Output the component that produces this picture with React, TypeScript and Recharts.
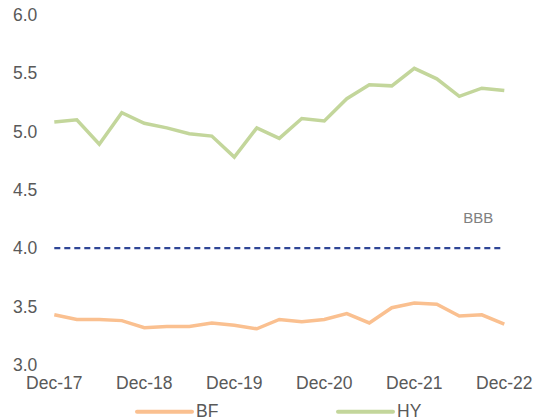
import React from 'react';
import { LineChart, Line, XAxis, YAxis, Legend } from 'recharts';

const quarters = [
  'Dec-17', 'Mar-18', 'Jun-18', 'Sep-18',
  'Dec-18', 'Mar-19', 'Jun-19', 'Sep-19',
  'Dec-19', 'Mar-20', 'Jun-20', 'Sep-20',
  'Dec-20', 'Mar-21', 'Jun-21', 'Sep-21',
  'Dec-21', 'Mar-22', 'Jun-22', 'Sep-22',
  'Dec-22',
];
const bf = [3.43, 3.39, 3.39, 3.38, 3.32, 3.33, 3.33, 3.36, 3.34, 3.31, 3.39, 3.37, 3.39, 3.44, 3.36, 3.49, 3.53, 3.52, 3.42, 3.43, 3.35];
const hy = [5.08, 5.1, 4.89, 5.16, 5.07, 5.03, 4.98, 4.96, 4.78, 5.03, 4.94, 5.11, 5.09, 5.28, 5.4, 5.39, 5.54, 5.45, 5.3, 5.37, 5.35];
const bbb = [4, 4, 4, 4, 4, 4, 4, 4, 4, 4, 4, 4, 4, 4, 4, 4, 4, 4, 4, 4, 4];
const yTicks = [3, 3.5, 4, 4.5, 5, 5.5, 6];

const data = quarters.map((q, i) => ({ q, BF: bf[i], HY: hy[i], BBB: bbb[i] }));

const font = '"Liberation Sans", Arial, sans-serif';
const textGrey = '#595959';

const bbbLabel = (props: any) => {
  const { x, y, index } = props;
  if (index !== quarters.length - 1) return null;
  return (
    <text x={x - 11} y={y - 25} textAnchor="end" fill="#808080" fontSize={15} fontFamily={font}>
      BBB
    </text>
  );
};

const LegendBox = ({ payload }: any) => {
  const items = (payload || []).filter((p: any) => p.type !== 'none' && p.value !== 'BBB');
  return (
    <svg width={542} height={30}>
      {items.map((p: any, i: number) => {
        const x0 = 137 + i * 201;
        return (
          <g key={p.value}>
            <line x1={x0} y1={16.7} x2={x0 + 55} y2={16.7} stroke={p.color} strokeWidth={4} strokeLinecap="round" />
            <text x={x0 + 59} y={21.5} fill={textGrey} fontSize={17.5} fontFamily={font}>
              {p.value}
            </text>
          </g>
        );
      })}
    </svg>
  );
};

export default function App() {
  return (
    <div style={{ position: 'absolute', left: 0, top: 0, width: 542, height: 419, background: '#fff', overflow: 'hidden' }}>
      <LineChart width={542} height={419} data={data} margin={{ top: 14.6, right: 37.7, bottom: 24, left: 0 }}>
        <XAxis
          dataKey="q"
          interval={3}
          axisLine={false}
          tickLine={false}
          tickSize={0}
          tickMargin={12}
          height={30}
          tick={{ fill: textGrey, fontSize: 17.5, fontFamily: font }}
        />
        <YAxis
          domain={[3, 6]}
          ticks={yTicks}
          width={54.3}
          axisLine={false}
          tickLine={false}
          tickSize={0}
          tickMargin={17}
          tickFormatter={(v: number) => v.toFixed(1)}
          tick={{ fill: textGrey, fontSize: 17.5, fontFamily: font }}
        />
        <Legend
          layout="horizontal"
          verticalAlign="middle"
          align="center"
          wrapperStyle={{ top: 395, left: 0, width: 542 }}
          content={<LegendBox />}
        />
        <Line
          dataKey="BBB"
          stroke="#2E4596"
          strokeWidth={2.2}
          strokeDasharray="6 4"
          dot={false}
          legendType="none"
          label={bbbLabel}
          isAnimationActive={false}
        />
        <Line dataKey="BF" stroke="#FAC090" strokeWidth={3.5} dot={false} isAnimationActive={false} />
        <Line dataKey="HY" stroke="#C3D69B" strokeWidth={3.5} dot={false} isAnimationActive={false} />
      </LineChart>
    </div>
  );
}
